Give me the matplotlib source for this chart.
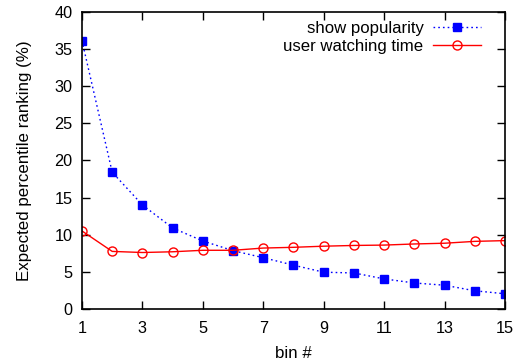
import matplotlib
matplotlib.use("Agg")
import matplotlib.pyplot as plt

plt.rcParams['font.family'] = ['Liberation Sans', 'DejaVu Sans']

bins = list(range(1, 16))
show_popularity = [36.1, 18.4, 14.0, 10.9, 9.15, 7.85, 6.9, 5.9, 4.95, 4.85, 4.05, 3.5, 3.2, 2.45, 2.05]
user_watching_time = [10.5, 7.75, 7.6, 7.7, 7.9, 7.9, 8.2, 8.3, 8.45, 8.55, 8.6, 8.75, 8.85, 9.1, 9.2]
xticks = [1, 3, 5, 7, 9, 11, 13, 15]
yticks = [0, 5, 10, 15, 20, 25, 30, 35, 40]

fig = plt.figure(figsize=(5.14, 3.62), dpi=100)
ax = fig.add_axes([0.1595, 0.1464, 0.823, 0.8213])

ax.plot(bins, show_popularity, color='#0000ff', linestyle=(0, (1.2, 2.2)), linewidth=1.0,
        marker='s', markersize=6, markerfacecolor='#0000ff', markeredgecolor='#0000ff',
        label='show popularity')
ax.plot(bins, user_watching_time, color='#ff0000', linestyle='-', linewidth=1.0,
        marker='o', markersize=6.5, markerfacecolor='none', markeredgecolor='#ff0000',
        markeredgewidth=1.0, label='user watching time')

ax.set_xlim(1, 15)
ax.set_ylim(0, 40)
ax.set_xticks(xticks)
ax.set_yticks(yticks)
ax.tick_params(direction='in', top=True, right=True, length=6, width=1.0, labelsize=11.7)
ax.tick_params(axis='x', pad=8.5)
ax.tick_params(axis='y', pad=7)
for s in ax.spines.values():
    s.set_linewidth(1.2)

ax.set_xlabel('bin #', fontsize=12.2, labelpad=7.5)
ax.set_ylabel('Expected percentile ranking (%)', fontsize=12.2, labelpad=16)

leg = ax.legend(loc='upper right', frameon=False, markerfirst=False, fontsize=12.1,
                handlelength=2.9, handletextpad=0.55, borderaxespad=0.3, labelspacing=0.15,
                bbox_to_anchor=(0.972, 1.008))

fig.savefig('out.png', dpi=100)
